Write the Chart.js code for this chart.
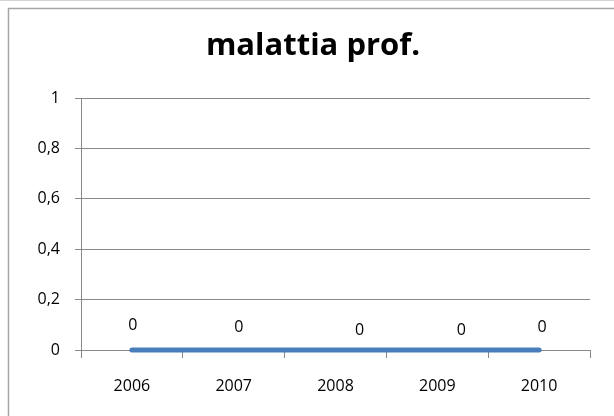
<!DOCTYPE html>
<html>
<head>
<meta charset="utf-8">
<script src="https://cdn.jsdelivr.net/npm/chart.js@4/dist/chart.umd.min.js"></script>
<style>
  html, body { margin: 0; padding: 0; background: #fff; }
  #wrap { position: relative; width: 614px; height: 416px; }
</style>
</head>
<body>
<div id="wrap"><canvas id="chart" width="614" height="416"></canvas></div>
<script>
// dati
const anni = ['2006', '2007', '2008', '2009', '2010'];
const valori = [0, 0, 0, 0, 0];
const etichette = ['0', '0', '0', '0', '0'];
const yTicks = [0, 0.2, 0.4, 0.6, 0.8, 1];

// spostamento delle etichette dati (come nell'originale)
const labelDx = [1, 5, 24, 24, 3];
const labelDy = [-25, -23, -20, -20, -23];

const FONT = '"Open Sans", "DejaVu Sans", sans-serif';
const GRID = '#888888';
const TESTO = '#000000';

// cornice del grafico
const cornice = {
    id: 'cornice',
    beforeDraw(chart) {
        const ctx = chart.ctx;
        ctx.save();
        ctx.fillStyle = '#ffffff';
        ctx.fillRect(0, 0, chart.width, chart.height);
        ctx.strokeStyle = '#d4d4d4';
        ctx.lineWidth = 1;
        ctx.beginPath();
        ctx.moveTo(0, 0.5);
        ctx.lineTo(chart.width, 0.5);
        ctx.stroke();
        ctx.strokeStyle = '#a6a6a6';
        ctx.lineWidth = 1.5;
        ctx.beginPath();
        ctx.moveTo(8.5, chart.height);
        ctx.lineTo(8.5, 8.5);
        ctx.lineTo(chart.width, 8.5);
        ctx.stroke();
        ctx.restore();
    }
};

// etichette dei valori
const etichetteDati = {
    id: 'etichetteDati',
    afterDatasetsDraw(chart) {
        const ctx = chart.ctx;
        const meta = chart.getDatasetMeta(0);
        ctx.save();
        ctx.font = '16px ' + FONT;
        ctx.fillStyle = TESTO;
        ctx.textAlign = 'center';
        ctx.textBaseline = 'middle';
        meta.data.forEach((pt, i) => {
            ctx.fillText(etichette[i], pt.x + labelDx[i], pt.y + labelDy[i]);
        });
        ctx.restore();
    }
};

new Chart(document.getElementById('chart'), {
    type: 'line',
    data: {
        labels: anni,
        datasets: [{
            label: 'malattia prof.',
            data: valori,
            borderColor: '#4A7EBB',
            borderWidth: 5,
            borderCapStyle: 'round',
            pointRadius: 0,
            tension: 0,
            fill: false,
            clip: false
        }]
    },
    options: {
        responsive: false,
        animation: false,
        layout: { padding: { top: 0, right: 24, bottom: 0, left: 36 } },
        plugins: {
            legend: { display: false },
            tooltip: { enabled: false },
            title: {
                display: true,
                text: 'malattia prof.',
                color: '#000000',
                font: { family: FONT, size: 31, weight: 'bold' },
                padding: { top: 28, bottom: 33 }
            }
        },
        scales: {
            x: {
                offset: true,
                grid: {
                    offset: true,
                    drawOnChartArea: false,
                    drawTicks: true,
                    tickLength: 8,
                    color: GRID
                },
                border: { display: true, color: GRID, width: 1 },
                ticks: {
                    color: TESTO,
                    font: { family: FONT, size: 16 },
                    padding: 19,
                    maxRotation: 0
                },
                afterFit(s) { s.height = 66; }
            },
            y: {
                min: 0,
                max: 1,
                afterBuildTicks(s) { s.ticks = yTicks.map(v => ({ value: v })); },
                grid: {
                    color: GRID,
                    drawTicks: true,
                    tickLength: 6
                },
                border: { display: true, color: GRID, width: 1 },
                ticks: {
                    color: TESTO,
                    font: { family: FONT, size: 16 },
                    padding: 15,
                    callback: v => String(v).replace('.', ',')
                },
                afterFit(s) { s.width = 45; }
            }
        }
    },
    plugins: [cornice, etichetteDati]
});
</script>
</body>
</html>
